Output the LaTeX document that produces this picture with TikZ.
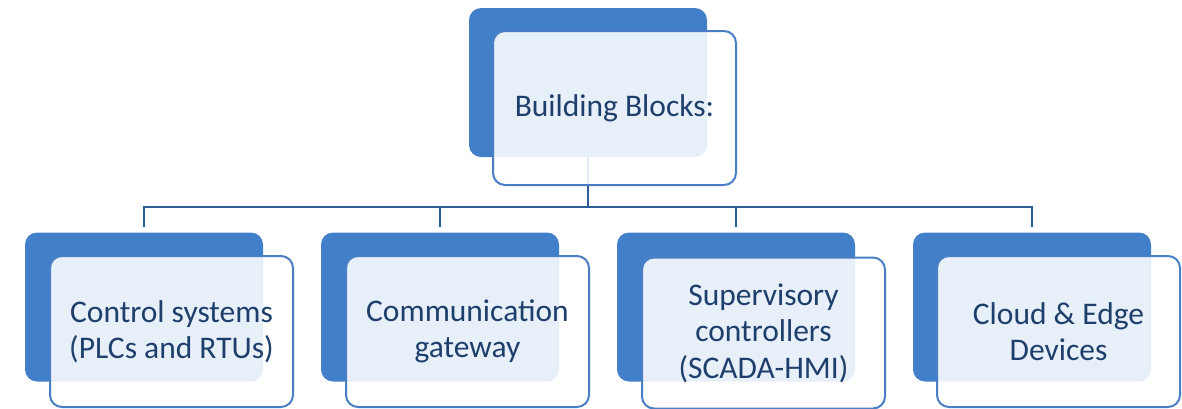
\documentclass[tikz,border=0pt]{standalone}
\usepackage{fontspec}
\setmainfont{Carlito}
\definecolor{backblue}{HTML}{4180C8}
\definecolor{edgeblue}{HTML}{4A7FC6}
\definecolor{linkblue}{HTML}{2F5D95}
\definecolor{inkblue}{HTML}{1E3F6C}
\tikzset{
  backbox/.style={draw=none, fill=backblue, rounded corners=12pt, inner sep=0pt,
    minimum width=238pt, minimum height=149pt},
  frontbox/.style={draw=edgeblue, line width=2pt, fill=white, fill opacity=0.88,
    text opacity=1, rounded corners=12pt, inner sep=0pt,
    minimum width=243pt, minimum height=151pt, text=inkblue, align=center,
    font=\fontsize{31.5}{36.5}\selectfont},
  link/.style={draw=linkblue, line width=2.5pt},
}
\begin{document}
\begin{tikzpicture}[x=1pt, y=-1pt]
\useasboundingbox (0,0) rectangle (1182,408);

% back plates (drawn first: connectors run beneath the front cards)
\node[backbox] (rb) at (588,82.5) {};
\node[backbox] (b1) at (144,307) {};
\node[backbox] (b2) at (440,307) {};
\node[backbox] (b3) at (736,307) {};
\node[backbox] (b4) at (1032,307) {};

% connectors
\coordinate (bar) at (588,207);
\draw[link] (rb.south) -- (bar);
\draw[link, shorten <=5pt, shorten >=5pt]
  (b1.north) -- (b1.north |- bar) -- (b4.north |- bar) -- (b4.north);
\draw[link, shorten >=5pt] (b2.north |- bar) -- (b2.north);
\draw[link, shorten >=5pt] (b3.north |- bar) -- (b3.north);

% front cards
\node[frontbox, minimum height=154pt] (root) at (614.5,108) {Building Blocks:};
\node[frontbox] (c1) at (171.5,331.5) {Control systems\\(PLCs and RTUs)};
\node[frontbox] (c2) at (467.5,331.5) {Communication\\gateway};
\node[frontbox] (c3) at (763.5,333) {Supervisory\\controllers\\(SCADA-HMI)};
\node[frontbox] (c4) at (1058.5,331.5) {Cloud \& Edge\\Devices};
\end{tikzpicture}
\end{document}
